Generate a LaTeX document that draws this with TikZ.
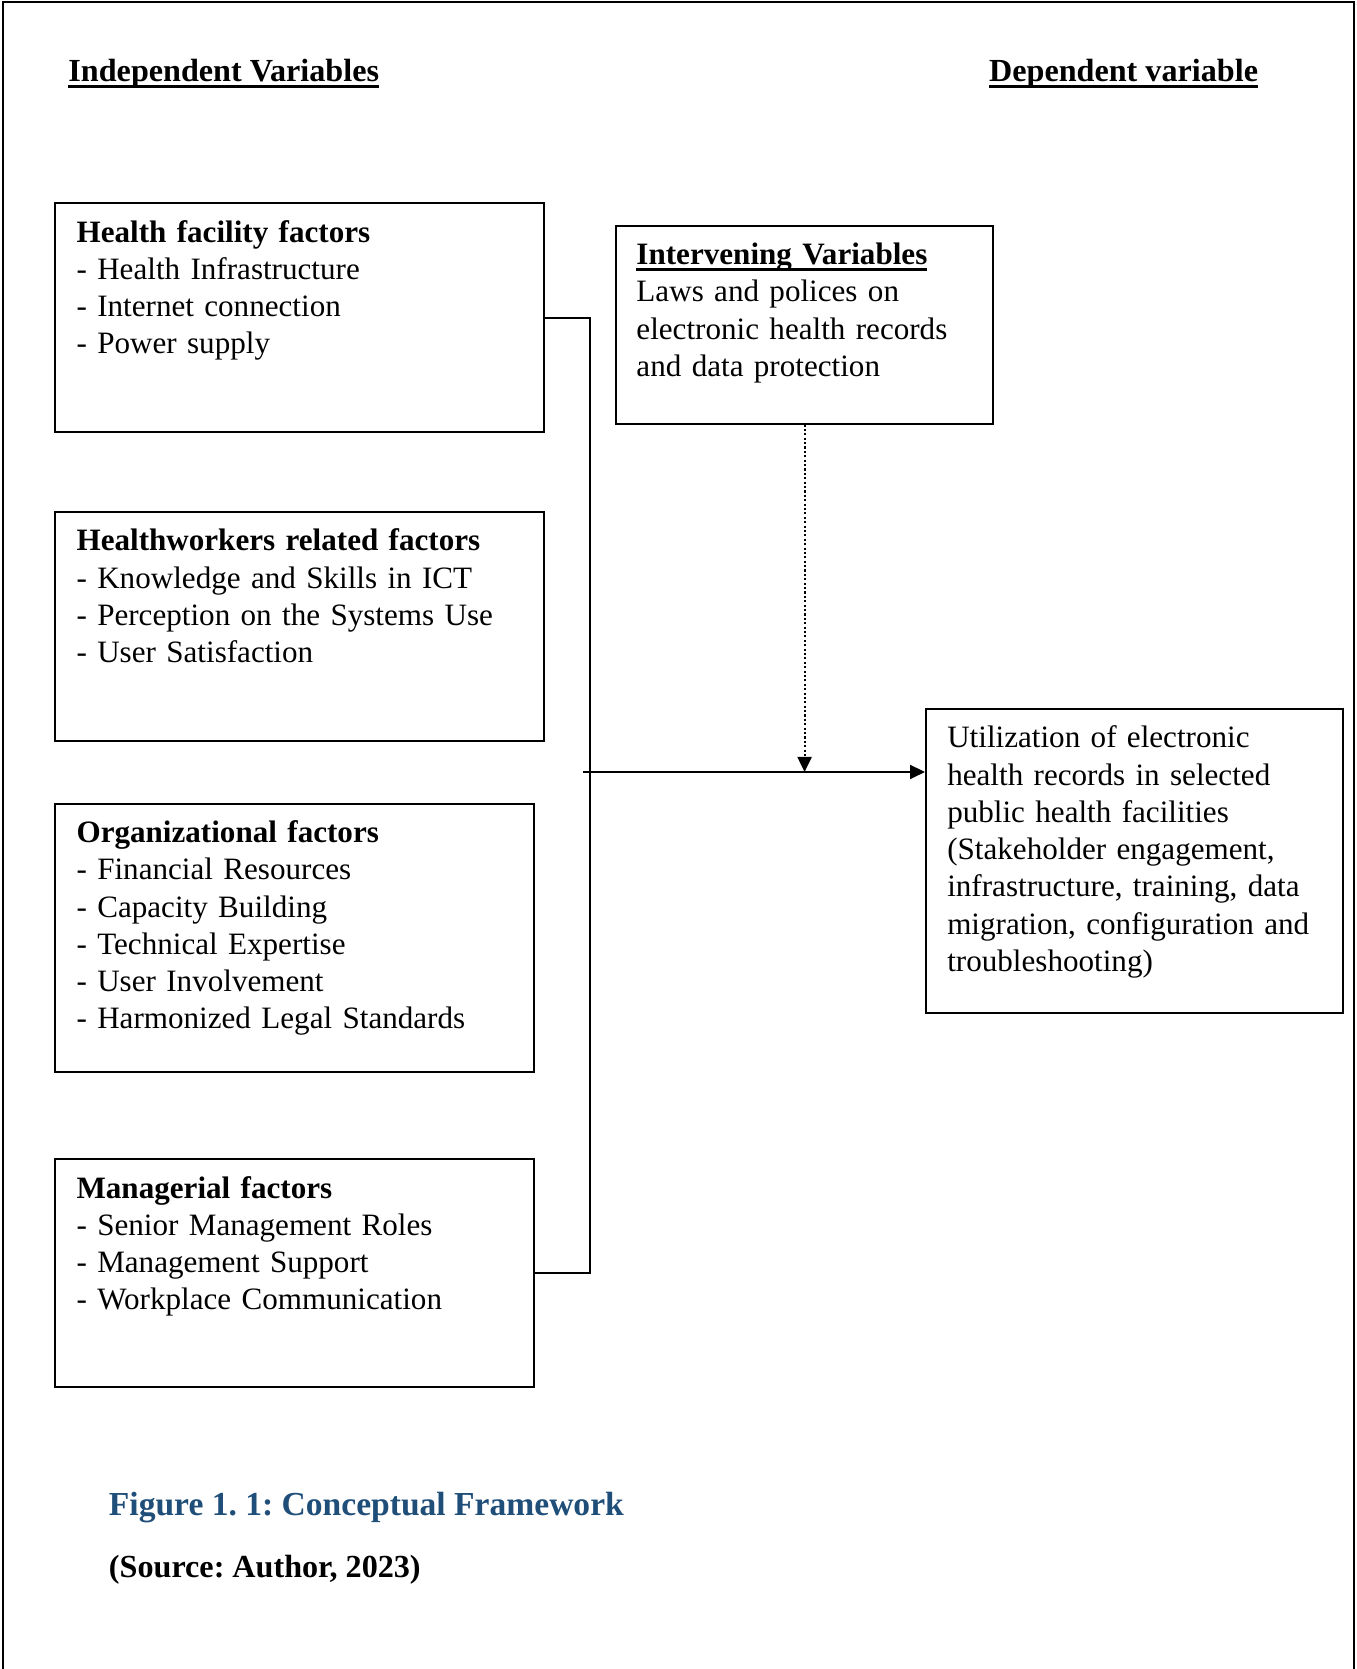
\documentclass[tikz,border=0pt]{standalone}
\usepackage{fontspec}
\setmainfont{Liberation Serif}
\usepackage{tikz}
\usetikzlibrary{arrows.meta, calc}
\definecolor{capblue}{RGB}{31,78,121}
\newcommand{\uln}[1]{\setbox0\hbox{#1}\rlap{\rule[-3.6pt]{\wd0}{1.5pt}}\box0}
\frenchspacing

\begin{document}
\begin{tikzpicture}[
  box/.style={draw, line width=1.1pt, anchor=north west, align=left, inner xsep=0.426cm, inner ysep=0.3cm, text height=0.48cm, font=\fontsize{17.7}{21.2}\selectfont},
  heading/.style={anchor=base west, inner sep=0pt, font=\fontsize{18.3}{21}\selectfont\bfseries},
  conn/.style={line width=1.1pt},
  tip/.style={-{Triangle[length=0.3cm, width=0.28cm]}}
]
\useasboundingbox (0,0) rectangle (27.12,33.38);
% page frame, open at the bottom
\draw[conn] (0.064,0) -- (0.064,33.338) -- (27.086,33.338) -- (27.086,0);

\node[heading] (indep) at (1.362,31.746) {\uln{Independent Variables}};
\node[heading] (dep) at (19.776,31.746) {\uln{Dependent variable}};

% independent variables
\node[box, text width=8.918cm, text depth=3.498cm] (hf) at (1.086,29.336) {\textbf{Health facility factors}\\- Health Infrastructure\\- Internet connection\\- Power supply};
\node[box, text width=8.918cm, text depth=3.498cm] (hw) at (1.086,23.162) {\textbf{Healthworkers related factors}\\- Knowledge and Skills in ICT\\- Perception on the Systems Use\\- User Satisfaction};
\node[box, text width=8.728cm, text depth=4.284cm] (org) at (1.086,17.328) {\textbf{Organizational factors}\\- Financial Resources\\- Capacity Building\\- Technical Expertise\\- User Involvement\\- Harmonized Legal Standards};
\node[box, text width=8.728cm, text depth=3.476cm] (mg) at (1.086,10.218) {\textbf{Managerial factors}\\- Senior Management Roles\\- Management Support\\- Workplace Communication};

% intervening and dependent
\node[box, inner xsep=0.406cm, text width=6.724cm, text depth=2.88cm] (iv) at (12.304,28.888) {\uln{\textbf{Intervening Variables}}\\Laws and polices on\\electronic health records\\and data protection};
\node[box, text width=7.492cm, text depth=5.008cm] (dv) at (18.5,19.224) {Utilization of electronic\\health records in selected\\public health facilities\\(Stakeholder engagement,\\infrastructure, training, data\\migration, configuration and\\troubleshooting)};

% connectors
\coordinate (bus) at (11.8,17.94);
\coordinate (start) at (11.666,17.94);
\draw[conn] (hf.east) -| (bus |- mg.east) -- (mg.east);
\draw[conn, tip] (start) -- (start -| dv.west);
\draw[line width=1.2pt, dash pattern=on 1.2pt off 1.3pt, tip] (iv.south) -- (iv.south |- start);

% caption
\node[anchor=base west, inner sep=0pt, text=capblue, font=\fontsize{19.1}{22}\selectfont\bfseries] (cap) at (2.172,3.06) {Figure 1. 1: Conceptual Framework};
\node[heading] (src) at (2.172,1.82) {(Source: Author, 2023)};
\end{tikzpicture}
\end{document}
